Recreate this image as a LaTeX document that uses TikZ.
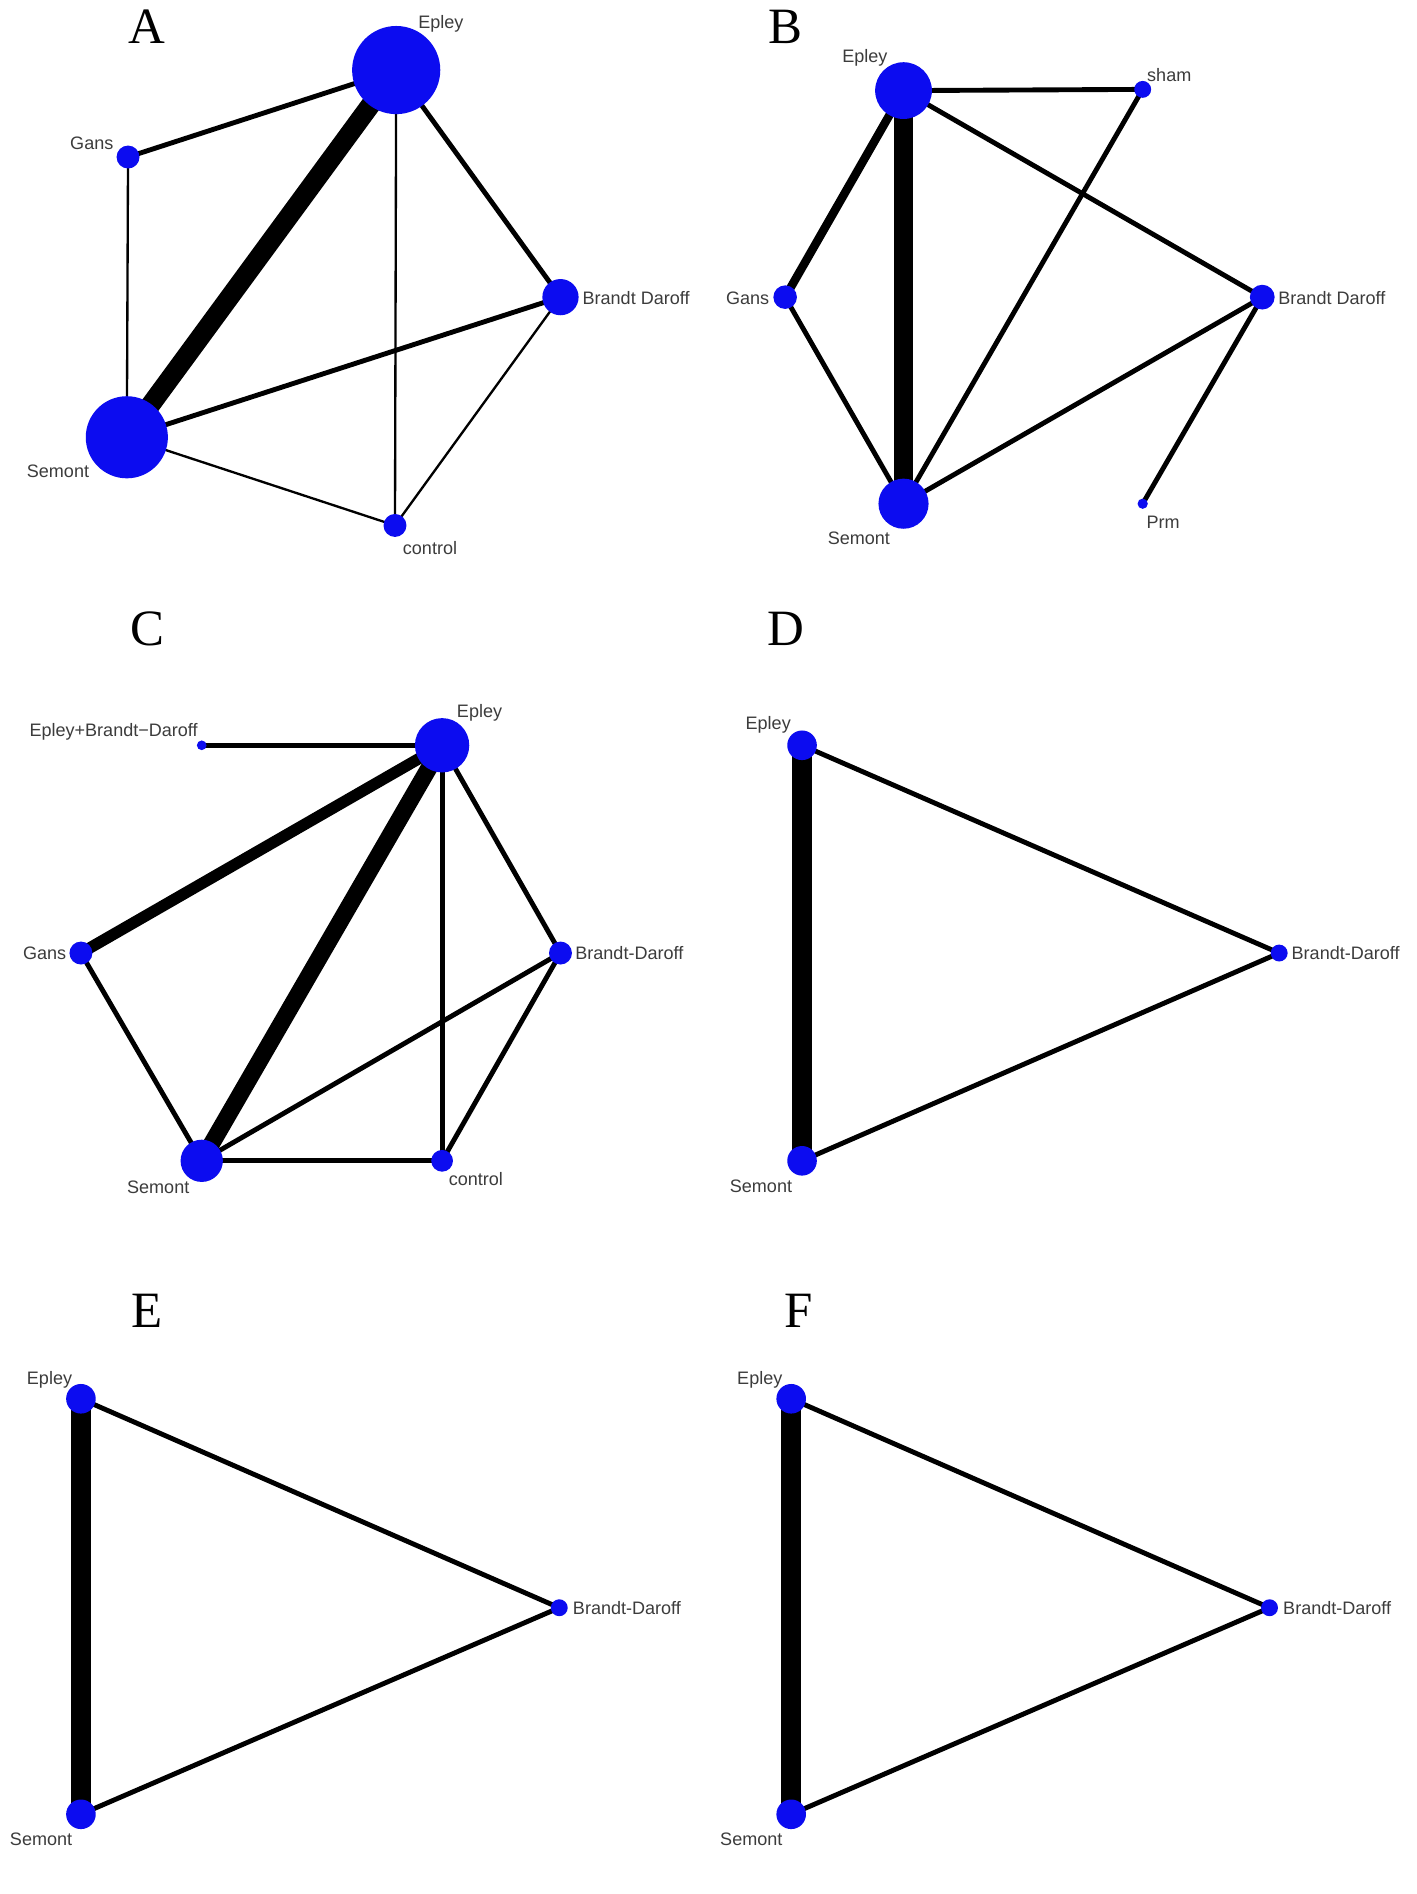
\documentclass[tikz,border=0pt]{standalone}
\usepackage{fontspec}
\setmainfont{Liberation Serif}
\newfontfamily\labfont{Liberation Sans}
\usetikzlibrary{backgrounds}
\definecolor{nodeblue}{RGB}{12,12,240}
\definecolor{labgray}{RGB}{60,60,60}
\begin{document}
\begin{tikzpicture}[x=0.02cm,y=-0.02cm,
  nd/.style={circle,fill=nodeblue,draw=none,inner sep=0pt,minimum size=#1},
  lbl/.style={font=\labfont\fontsize{8.5}{10}\selectfont,text=labgray,inner sep=0pt},
  panel/.style={font=\fontsize{24}{28}\selectfont,inner sep=0pt},
  ethin/.style={line width=1.1pt},
  emed/.style={line width=2.3pt},
  ewide/.style={line width=4pt},
  ewider/.style={line width=5.4pt},
  ethick/.style={line width=8pt},
  ethicker/.style={line width=9.2pt}]
\useasboundingbox (0,0) rectangle (1173,1568);

% ---------- Panel A ----------
\node[panel] (pA) at (122,22) {A};
\node[nd=1.46cm] (aE) at (328,58) {};
\node[nd=0.38cm] (aG) at (106,130) {};
\node[nd=0.60cm] (aB) at (464,246) {};
\node[nd=1.36cm] (aS) at (105,362) {};
\node[nd=0.38cm] (aC) at (327,435) {};
\node[lbl] (laE) at (365,20) {Epley};
\node[lbl] (laG) at (76,119) {Gans};
\node[lbl,anchor=west] (laB) at (482,247) {Brandt Daroff};
\node[lbl] (laS) at (48,390) {Semont};
\node[lbl] (laC) at (356,454) {control};

% ---------- Panel B ----------
\node[panel] (pB) at (650,22) {B};
\node[nd=0.94cm] (bE) at (748,75) {};
\node[nd=0.28cm] (bH) at (946,74) {};
\node[nd=0.39cm] (bG) at (650,246) {};
\node[nd=0.41cm] (bB) at (1045,246) {};
\node[nd=0.83cm] (bS) at (748,417) {};
\node[nd=0.17cm] (bP) at (946,417) {};
\node[lbl] (lbE) at (716,48) {Epley};
\node[lbl] (lbH) at (968,62) {sham};
\node[lbl] (lbG) at (619,247) {Gans};
\node[lbl,anchor=west] (lbB) at (1058,247) {Brandt Daroff};
\node[lbl] (lbS) at (711,446) {Semont};
\node[lbl] (lbP) at (963,432) {Prm};

% ---------- Panel C ----------
\node[panel] (pC) at (122,521) {C};
\node[nd=0.90cm] (cE) at (366,617) {};
\node[nd=0.16cm] (cX) at (167,617) {};
\node[nd=0.38cm] (cG) at (67,789) {};
\node[nd=0.38cm] (cB) at (464,789) {};
\node[nd=0.70cm] (cS) at (167,961) {};
\node[nd=0.36cm] (cC) at (366,961) {};
\node[lbl] (lcE) at (397,590) {Epley};
\node[lbl,anchor=east] (lcX) at (164,606) {Epley+Brandt−Daroff};
\node[lbl] (lcG) at (37,789) {Gans};
\node[lbl,anchor=west] (lcB) at (476,789) {Brandt-Daroff};
\node[lbl] (lcS) at (131,983) {Semont};
\node[lbl] (lcC) at (394,976) {control};

% ---------- Panel D ----------
\node[panel] (pD) at (651,521) {D};
\node[nd=0.49cm] (dE) at (664,617) {};
\node[nd=0.28cm] (dB) at (1059,789) {};
\node[nd=0.49cm] (dS) at (664,961) {};
\node[lbl] (ldE) at (636,600) {Epley};
\node[lbl,anchor=west] (ldB) at (1069,789) {Brandt-Daroff};
\node[lbl] (ldS) at (630,982) {Semont};

% ---------- Panel E ----------
\node[panel] (pE) at (122,1085) {E};
\node[nd=0.49cm] (eE) at (67,1158) {};
\node[nd=0.28cm] (eB) at (463,1331) {};
\node[nd=0.49cm] (eS) at (67,1502) {};
\node[lbl] (leE) at (41,1142) {Epley};
\node[lbl,anchor=west] (leB) at (474,1331) {Brandt-Daroff};
\node[lbl] (leS) at (34,1523) {Semont};

% ---------- Panel F ----------
\node[panel] (pF) at (661,1085) {F};
\node[nd=0.49cm] (fE) at (655,1158) {};
\node[nd=0.28cm] (fB) at (1051,1331) {};
\node[nd=0.49cm] (fS) at (655,1502) {};
\node[lbl] (lfE) at (629,1142) {Epley};
\node[lbl,anchor=west] (lfB) at (1062,1331) {Brandt-Daroff};
\node[lbl] (lfS) at (622,1523) {Semont};

\begin{pgfonlayer}{background}
\fill[white] (0,0) rectangle (1173,1568);
% A edges
\draw[emed]     (aE.center) -- (aG.center);
\draw[ethicker] (aE.center) -- (aS.center);
\draw[emed]     (aE.center) -- (aB.center);
\draw[ethin]    (aE.center) -- (aC.center);
\draw[ethin]    (aG.center) -- (aS.center);
\draw[emed]     (aS.center) -- (aB.center);
\draw[ethin]    (aS.center) -- (aC.center);
\draw[ethin]    (aB.center) -- (aC.center);
% B edges
\draw[emed]     (bE.center) -- (bH.center);
\draw[ewide]    (bE.center) -- (bG.center);
\draw[ethicker] (bE.center) -- (bS.center);
\draw[emed]     (bE.center) -- (bB.center);
\draw[emed]     (bG.center) -- (bS.center);
\draw[emed]     (bH.center) -- (bS.center);
\draw[emed]     (bS.center) -- (bB.center);
\draw[emed]     (bB.center) -- (bP.center);
% C edges
\draw[emed]     (cX.center) -- (cE.center);
\draw[ewider]   (cE.center) -- (cG.center);
\draw[ethick]   (cE.center) -- (cS.center);
\draw[emed]     (cE.center) -- (cB.center);
\draw[emed]     (cE.center) -- (cC.center);
\draw[emed]     (cG.center) -- (cS.center);
\draw[emed]     (cS.center) -- (cB.center);
\draw[emed]     (cS.center) -- (cC.center);
\draw[emed]     (cB.center) -- (cC.center);
% D edges
\draw[ethicker] (dE.center) -- (dS.center);
\draw[emed]     (dE.center) -- (dB.center);
\draw[emed]     (dS.center) -- (dB.center);
% E edges
\draw[ethicker] (eE.center) -- (eS.center);
\draw[emed]     (eE.center) -- (eB.center);
\draw[emed]     (eS.center) -- (eB.center);
% F edges
\draw[ethicker] (fE.center) -- (fS.center);
\draw[emed]     (fE.center) -- (fB.center);
\draw[emed]     (fS.center) -- (fB.center);
\end{pgfonlayer}
\end{tikzpicture}
\end{document}
